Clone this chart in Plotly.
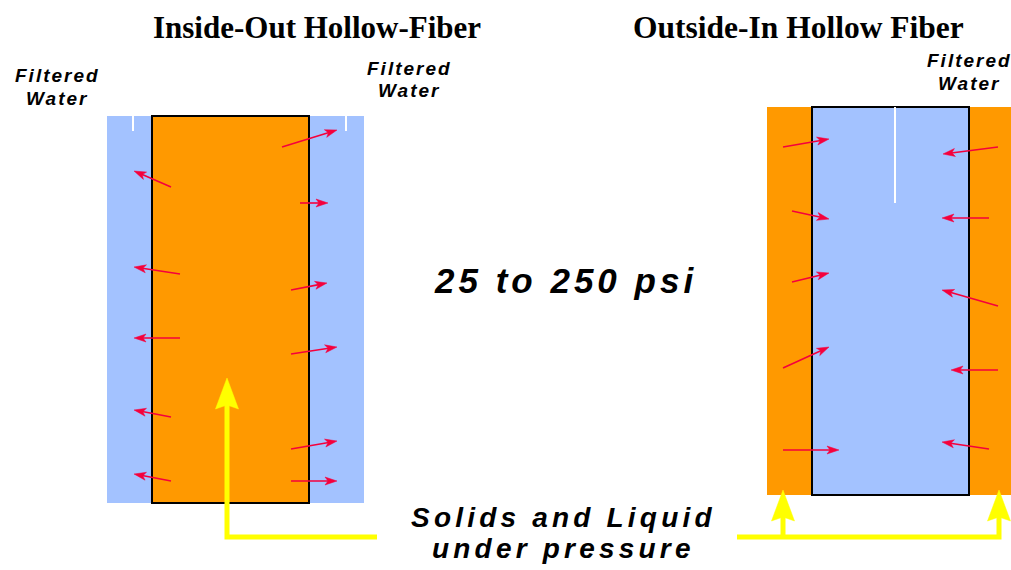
import math
import plotly.graph_objects as go

W, H = 1011, 570

# ---- diagram data (pixel space of the reference) ----
# rectangles: x0, x1, y0, y1
left_blue = [107, 364, 116, 503]
left_orange = [152, 309, 116, 503]
right_orange = [767, 1011, 107, 495]
right_blue = [812, 969, 107, 495]

# thin white marks inside the filtered-water channels
white_x = [133, 346, 895]
white_y0 = [116, 116, 107]
white_y1 = [131, 131, 203]

# red flow arrows (tail -> head)
red_tail_x = [171, 180, 180, 171, 171, 282, 300, 291, 291, 291, 291,
              783, 792, 792, 783, 783, 998, 989, 998, 998, 989]
red_tail_y = [187, 274, 338, 417, 481, 147, 203, 290, 354, 449, 481,
              147, 211, 282, 368, 450, 147, 218, 306, 370, 449]
red_head_x = [134, 134, 134, 134, 134, 337, 328, 327, 337, 337, 337,
              829, 829, 829, 829, 839, 943, 942, 942, 951, 942]
red_head_y = [171, 267, 338, 410, 474, 130, 203, 283, 347, 441, 481,
              139, 219, 273, 347, 450, 154, 218, 290, 370, 442]

# yellow feed lines and arrow tips
yellow_paths = [
    ([377, 227, 227], [537, 537, 400]),
    ([737, 999, 999], [537, 537, 512]),
    ([783, 783], [537, 512]),
]
yellow_tip_x = [227, 783, 999]
yellow_tip_y = [378, 490, 490]

# text
titles = ["Inside-Out Hollow-Fiber", "Outside-In Hollow Fiber"]
title_x = [317, 798]
title_y = [27.5, 27.5]
fw_lines = ["Filtered", "Water"]
fw_x = [56, 408, 968]
fw_y1 = [75, 68, 60]
fw_y2 = [98, 90, 83]
psi_label = "25 to 250 psi"
feed_lines = ["Solids and Liquid", "under pressure"]

BLUE = "#A3C2FF"
ORANGE = "#FF9900"
RED = "#F5003C"
YELLOW = "#FFFF00"

fig = go.Figure()

shapes = []
def rect(r, color, border):
    shapes.append(dict(type="rect", xref="x", yref="y", x0=r[0], x1=r[1], y0=r[2], y1=r[3],
                       fillcolor=color, layer="below",
                       line=dict(color="black" if border else color, width=2 if border else 0)))
rect(left_blue, BLUE, False)
rect(left_orange, ORANGE, True)
rect(right_orange, ORANGE, False)
rect(right_blue, BLUE, True)
for x, y0, y1 in zip(white_x, white_y0, white_y1):
    shapes.append(dict(type="line", xref="x", yref="y", x0=x, x1=x, y0=y0, y1=y1,
                       line=dict(color="white", width=2), layer="below"))

# red arrows: shafts + heads
sx, sy, hx, hy = [], [], [], []
L, HW = 12, 4
for tx, ty, px, py in zip(red_tail_x, red_tail_y, red_head_x, red_head_y):
    dx, dy = px - tx, py - ty
    d = math.hypot(dx, dy)
    ux, uy = dx / d, dy / d
    nx, ny = -uy, ux
    bx, by = px - L * ux, py - L * uy
    sx += [tx, px - 0.7 * L * ux, None]
    sy += [ty, py - 0.7 * L * uy, None]
    hx += [px, bx + HW * nx, px - 0.75 * L * ux, bx - HW * nx, px, None]
    hy += [py, by + HW * ny, py - 0.75 * L * uy, by - HW * ny, py, None]
fig.add_trace(go.Scatter(x=sx, y=sy, mode="lines", line=dict(color=RED, width=1.6),
                         hoverinfo="skip", showlegend=False))
fig.add_trace(go.Scatter(x=hx, y=hy, mode="lines", fill="toself", fillcolor=RED,
                         line=dict(color=RED, width=0.5), hoverinfo="skip", showlegend=False))

# yellow lines + heads
for px_, py_ in yellow_paths:
    fig.add_trace(go.Scatter(x=px_, y=py_, mode="lines", line=dict(color=YELLOW, width=5),
                             hoverinfo="skip", showlegend=False))
yx, yy = [], []
YL, YHW = 31, 11.5
for tx, ty in zip(yellow_tip_x, yellow_tip_y):
    yx += [tx, tx - YHW, tx, tx + YHW, tx, None]
    yy += [ty, ty + YL, ty + YL - 4, ty + YL, ty, None]
fig.add_trace(go.Scatter(x=yx, y=yy, mode="lines", fill="toself", fillcolor=YELLOW,
                         line=dict(color=YELLOW, width=0.5), hoverinfo="skip", showlegend=False))

annotations = []
def txt(s, x, y, size, family, ls=0, italic=True):
    content = s if ls == 0 else f'<span style="letter-spacing:{ls}px">{s}</span>'
    annotations.append(dict(text=content, x=x + ls / 2, y=y, xref="x", yref="y", showarrow=False,
                            xanchor="center", yanchor="middle",
                            font=dict(size=size, family=family, color="black", weight="bold",
                                      style="italic" if italic else "normal")))

for i, (t, x, y) in enumerate(zip(titles, title_x, title_y)):
    txt(t, x, y, 31 if i == 0 else 31.5, "Liberation Serif", 0, italic=False)
for x, y1, y2 in zip(fw_x, fw_y1, fw_y2):
    txt(fw_lines[0], x, y1, 19, "Liberation Sans", 2.0)
    txt(fw_lines[1], x, y2, 19, "Liberation Sans", 2.0)
txt(psi_label, 563, 280.5, 35, "Liberation Sans", 4.0)
txt(feed_lines[0], 561, 517, 28, "Liberation Sans", 4.2)
txt(feed_lines[1], 561, 548, 28, "Liberation Sans", 4.2)

fig.update_layout(
    width=W, height=H, margin=dict(l=0, r=0, t=0, b=0),
    paper_bgcolor="white", plot_bgcolor="white",
    shapes=shapes, annotations=annotations,
    xaxis=dict(range=[0, W], visible=False, fixedrange=True),
    yaxis=dict(range=[H, 0], visible=False, fixedrange=True),
    showlegend=False,
)

fig.write_html("out.html", config={"displayModeBar": False},
               post_script="document.body.style.margin='0';")
